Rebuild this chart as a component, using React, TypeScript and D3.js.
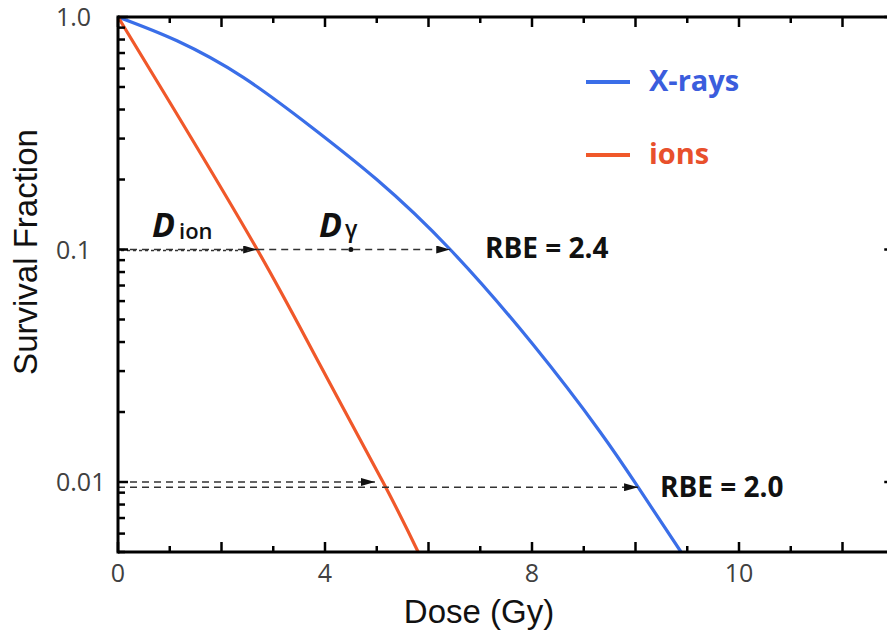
import React from "react";
import * as d3 from "d3";

// survival curves (dose in Gy, surviving fraction)
const xrayDose = [0, 1.14, 2.42, 3.71, 5.0, 6.42, 8.02, 9.31, 10.05, 10.88];
const xraySurv = [1.0, 0.79, 0.55, 0.34, 0.2, 0.1, 0.039, 0.0165, 0.0095, 0.005];
const ionDose = [0, 1, 2.69, 3.9, 5.12, 5.8];
const ionSurv = [1.0, 0.43, 0.1, 0.032, 0.01, 0.005];

// RBE annotations
const rbeIonDose = [2.69, 5.12];
const rbeIonLevel = [0.1, 0.01];
const rbeXrayDose = [6.42, 10.05];
const rbeXrayLevel = [0.1, 0.0095];
const rbeLabels = ["RBE = 2.4", "RBE = 2.0"];

const xTickValues = [0, 4, 8, 12];
const xTickLabels = ["0", "4", "8", "10"];
const yTickValues = [1, 0.1, 0.01];
const yTickLabels = ["1.0", "0.1", "0.01"];

const legendNames = ["X-rays", "ions"];
const BLUE = "#3a6ee8";
const ORANGE = "#f0582a";
const legendColors = [BLUE, ORANGE];
const legendText = ["#3b5ddd", "#e8502c"];

const W = 887;
const H = 631;

export default function App() {
  const x = d3.scaleLinear().domain([0, 15]).range([118, 118 + 15 * 51.75]);
  const y = d3.scaleLog().domain([0.005, 1]).range([552, 17]);
  const [x0, x1] = x.range();
  const [yb, yt] = y.range();

  const line = d3
    .line<[number, number]>()
    .x((d) => x(d[0]))
    .y((d) => y(d[1]))
    .curve(d3.curveNatural);

  const xray = xrayDose.map((d, i) => [d, xraySurv[i]] as [number, number]);
  const ion = ionDose.map((d, i) => [d, ionSurv[i]] as [number, number]);

  const minorY: number[] = [];
  [0.001, 0.01, 0.1].forEach((dec) => {
    for (let k = 2; k <= 9; k++) {
      const v = dec * k;
      if (v >= 0.005 && v <= 1) minorY.push(v);
    }
  });
  const xTicks = d3.range(0, 16, 1);

  const font = "'Open Sans', sans-serif";
  const dash = "7,5";

  return (
    <svg width={W} height={H} style={{ position: "absolute", left: 0, top: 0, background: "#fff" }}>
      <defs>
        <marker id="arr" viewBox="0 0 14 8" refX="14" refY="4" markerWidth="14" markerHeight="8"
          markerUnits="userSpaceOnUse" orient="auto">
          <path d="M0,0 L14,4 L0,8 Z" fill="#111" />
        </marker>
        <clipPath id="plot">
          <rect x={x0} y={yt} width={x1 - x0} height={yb - yt} />
        </clipPath>
      </defs>

      {/* curves */}
      <g clipPath="url(#plot)" fill="none" strokeWidth={3.2}>
        <path d={line(xray) ?? ""} stroke={BLUE} />
        <path d={line(ion) ?? ""} stroke={ORANGE} />
      </g>

      {/* RBE dashed arrows */}
      <g stroke="#333" strokeWidth={1.6} strokeDasharray={dash} fill="none">
        <line x1={x0} x2={x(rbeIonDose[0])} y1={y(rbeIonLevel[0])} y2={y(rbeIonLevel[0])} markerEnd="url(#arr)" />
        <line x1={x0 + 3} x2={x(rbeIonDose[0]) - 8} y1={y(rbeIonLevel[0]) + 1} y2={y(rbeIonLevel[0]) + 1} strokeDasharray="3,3" />
        <line x1={x(rbeIonDose[0])} x2={x(rbeXrayDose[0])} y1={y(rbeXrayLevel[0])} y2={y(rbeXrayLevel[0])} markerEnd="url(#arr)" />
        <line x1={x0} x2={x(rbeIonDose[1]) - 8} y1={y(rbeIonLevel[1])} y2={y(rbeIonLevel[1])} markerEnd="url(#arr)" />
        <line x1={x0} x2={x(rbeXrayDose[1])} y1={y(rbeXrayLevel[1])} y2={y(rbeXrayLevel[1])} markerEnd="url(#arr)" />
      </g>
      <circle cx={x(4.5)} cy={y(0.1)} r={2.5} fill="#111" />

      {/* frame */}
      <g stroke="#000" fill="none">
        <line x1={x0} x2={x1} y1={yt} y2={yt} strokeWidth={3} />
        <line x1={x0} x2={x1} y1={yb} y2={yb} strokeWidth={3} />
        <line x1={x0} x2={x0} y1={yt - 1.5} y2={yb + 1.5} strokeWidth={3} />
        <line x1={x1} x2={x1} y1={yt} y2={yb} strokeWidth={3} />
        {xTicks.map((t) => {
          const len = t % 2 === 0 ? 10 : 6;
          return (
            <g key={"xt" + t} strokeWidth={2.5}>
              <line x1={x(t)} x2={x(t)} y1={yb} y2={yb - len} />
              <line x1={x(t)} x2={x(t)} y1={yt} y2={yt + len} />
            </g>
          );
        })}
        {minorY.map((v) => (
          <g key={"ym" + v} strokeWidth={2.5}>
            <line x1={x0} x2={x0 + 7} y1={y(v)} y2={y(v)} />
            <line x1={x1} x2={x1 - 7} y1={y(v)} y2={y(v)} />
          </g>
        ))}
        {yTickValues.map((v) => (
          <g key={"yM" + v} strokeWidth={2.5}>
            <line x1={x0} x2={x0 + 10} y1={y(v)} y2={y(v)} />
            <line x1={x1} x2={x1 - 10} y1={y(v)} y2={y(v)} />
          </g>
        ))}
      </g>

      {/* tick labels */}
      <g fontFamily={font} fontSize={25} fill="#404040">
        {yTickValues.map((v, i) => (
          <text key={"yl" + v} x={56} y={y(v)} dy="0.36em">{yTickLabels[i]}</text>
        ))}
        {xTickValues.map((v, i) => (
          <text key={"xl" + v} x={x(v)} y={582} textAnchor="middle">{xTickLabels[i]}</text>
        ))}
      </g>

      {/* axis titles */}
      <text x={479} y={623} textAnchor="middle" fontFamily="'Liberation Sans', Arial, sans-serif" fontSize={33} fill="#111">Dose (Gy)</text>
      <text transform={`translate(37,252) rotate(-90)`} textAnchor="middle" fontFamily="'Liberation Sans', Arial, sans-serif" fontSize={33} fill="#111">Survival Fraction</text>

      {/* D labels */}
      <g fontFamily={font} fontWeight={700} fill="#111">
        <text x={152} y={237} fontSize={34} fontStyle="italic">D</text>
        <text x={179} y={239} fontSize={22} fontWeight={600}>ion</text>
        <text x={319} y={237} fontSize={34} fontStyle="italic">D</text>
        <text x={345} y={237} fontSize={23} fontWeight={600}>γ</text>
      </g>

      {/* RBE labels */}
      <g fontFamily={font} fontWeight={700} fontSize={28} fill="#111">
        <text x={485} y={258}>{rbeLabels[0]}</text>
        <text x={660} y={497}>{rbeLabels[1]}</text>
      </g>

      {/* legend */}
      {legendNames.map((n, i) => (
        <g key={n}>
          <line x1={586} x2={630} y1={82 + i * 73} y2={82 + i * 73} stroke={legendColors[i]} strokeWidth={4} />
          <text x={649} y={91 + i * 73} fontFamily={font} fontWeight={700} fontSize={29} fill={legendText[i]}>{n}</text>
        </g>
      ))}
    </svg>
  );
}
